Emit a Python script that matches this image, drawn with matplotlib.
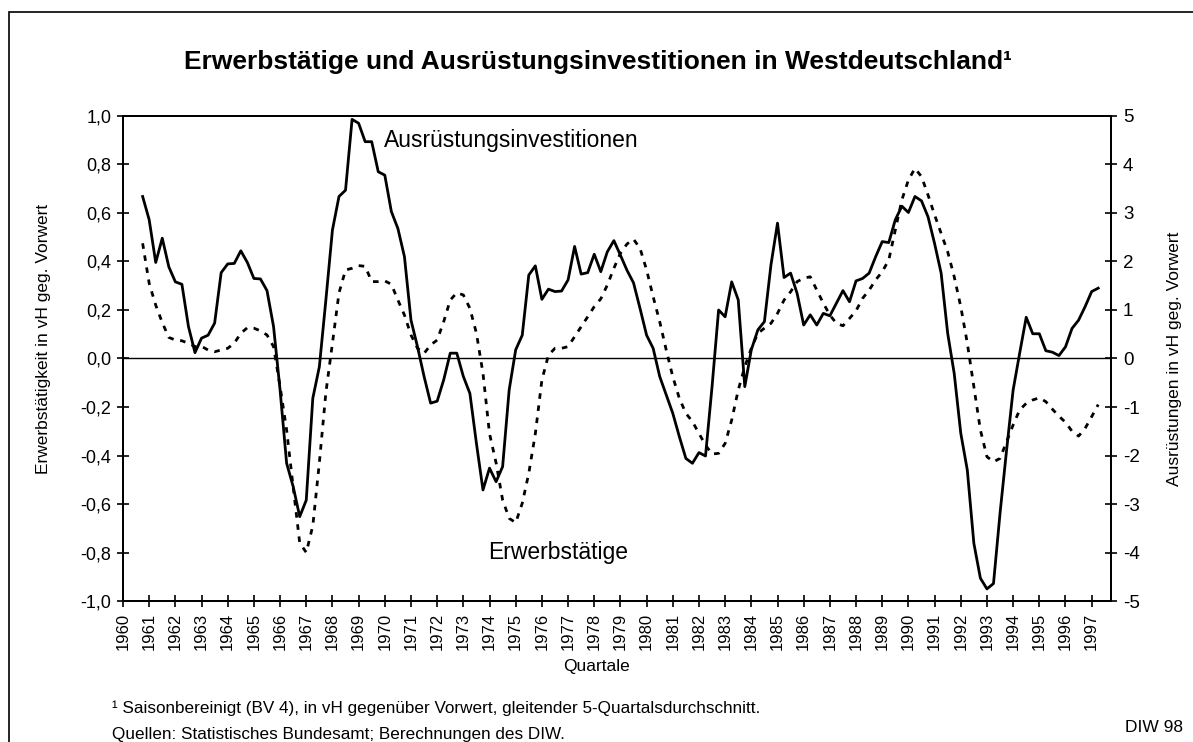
import numpy as np
import matplotlib.pyplot as plt
from matplotlib.patches import Rectangle

plt.rcParams['font.family'] = ['Liberation Sans', 'DejaVu Sans']

# quarterly values, first quarter 1960 Q4 (x = 1960.75)
erster_wert = 1960.75

# Ausrüstungsinvestitionen, vH geg. Vorwert (right axis)
investitionen = [
    3.34, 2.86, 1.98, 2.48, 1.89, 1.58, 1.53, 0.66, 0.12, 0.42,
    0.48, 0.73, 1.77, 1.95, 1.96, 2.22, 1.98, 1.65, 1.64, 1.40,
    0.66, -0.65, -2.16, -2.64, -3.26, -2.92, -0.82, -0.17, 1.21, 2.65,
    3.34, 3.47, 4.93, 4.85, 4.47, 4.47, 3.85, 3.78, 3.03, 2.68,
    2.10, 0.79, 0.24, -0.37, -0.92, -0.88, -0.44, 0.11, 0.11, -0.37,
    -0.72, -1.75, -2.71, -2.26, -2.54, -2.23, -0.65, 0.18, 0.48, 1.72,
    1.91, 1.22, 1.43, 1.38, 1.39, 1.62, 2.31, 1.74, 1.77, 2.15,
    1.79, 2.20, 2.43, 2.13, 1.82, 1.56, 1.03, 0.48, 0.21, -0.37,
    -0.75, -1.13, -1.61, -2.06, -2.16, -1.94, -2.01, -0.58, 1.00, 0.86,
    1.58, 1.21, -0.58, 0.18, 0.59, 0.76, 1.93, 2.79, 1.67, 1.76,
    1.34, 0.69, 0.90, 0.69, 0.93, 0.88, 1.14, 1.40, 1.17, 1.60,
    1.65, 1.76, 2.10, 2.41, 2.39, 2.86, 3.14, 3.01, 3.34, 3.25,
    2.92, 2.37, 1.76, 0.52, -0.31, -1.54, -2.30, -3.81, -4.53, -4.75,
    -4.64, -3.19, -1.89, -0.65, 0.11, 0.85, 0.51, 0.51, 0.16, 0.13,
    0.06, 0.24, 0.62, 0.79, 1.07, 1.38, 1.45,
]

# Erwerbstätige, vH geg. Vorwert (left axis)
erwerbstaetige = [
    0.475, 0.31, 0.22, 0.148, 0.087, 0.076, 0.073, 0.063, 0.049, 0.05,
    0.035, 0.028, 0.035, 0.042, 0.063, 0.104, 0.127, 0.125, 0.114, 0.097,
    0.049, -0.116, -0.295, -0.53, -0.76, -0.80, -0.69, -0.43, -0.14, 0.063,
    0.27, 0.365, 0.372, 0.383, 0.38, 0.317, 0.317, 0.32, 0.306, 0.241,
    0.179, 0.097, 0.042, 0.021, 0.056, 0.076, 0.152, 0.241, 0.271, 0.262,
    0.207, 0.104, -0.061, -0.31, -0.43, -0.583, -0.659, -0.677, -0.597, -0.473,
    -0.31, -0.089, 0.014, 0.042, 0.042, 0.049, 0.09, 0.131, 0.172, 0.214,
    0.246, 0.303, 0.372, 0.434, 0.472, 0.492, 0.454, 0.365, 0.255, 0.152,
    0.035, -0.075, -0.164, -0.226, -0.26, -0.309, -0.357, -0.394, -0.391, -0.35,
    -0.254, -0.13, -0.034, 0.042, 0.104, 0.125, 0.145, 0.186, 0.241, 0.275,
    0.317, 0.331, 0.337, 0.282, 0.228, 0.179, 0.145, 0.135, 0.165, 0.197,
    0.248, 0.282, 0.324, 0.358, 0.406, 0.53, 0.654, 0.736, 0.784, 0.75,
    0.674, 0.592, 0.516, 0.44, 0.337, 0.214, 0.063, -0.116, -0.295, -0.405,
    -0.426, -0.412, -0.343, -0.274, -0.212, -0.185, -0.171, -0.162, -0.178, -0.209,
    -0.238, -0.263, -0.30, -0.32, -0.288, -0.24, -0.19,
]

jahre = list(range(1960, 1998))
links_ticks = [-1.0, -0.8, -0.6, -0.4, -0.2, 0.0, 0.2, 0.4, 0.6, 0.8, 1.0]
rechts_ticks = [-5, -4, -3, -2, -1, 0, 1, 2, 3, 4, 5]

quartale = erster_wert + 0.25 * np.arange(len(investitionen))

fig = plt.figure(figsize=(11.93, 7.42), dpi=100)
ax = fig.add_axes([0.1031, 0.19, 0.8282, 0.6537])
ax2 = ax.twinx()

ax.axhline(0, color='black', lw=1.0)
ax.plot(quartale, erwerbstaetige, color='black', lw=2.0, linestyle=(0, (2, 2.4)))
ax2.plot(quartale, investitionen, color='black', lw=2.0)

ax.set_xlim(1960, 1997.74)
ax.set_ylim(-1, 1)
ax2.set_ylim(-5, 5)

ax.set_xticks(jahre)
ax.set_xticklabels([str(j) for j in jahre], rotation=90, fontsize=12)
ax.set_yticks(links_ticks)
ax.set_yticklabels([f'{v:.1f}'.replace('.', ',') for v in links_ticks], fontsize=13)
ax2.set_yticks(rechts_ticks)
ax2.set_yticklabels([str(v) for v in rechts_ticks], fontsize=13.5)

for a in (ax, ax2):
    a.tick_params(direction='inout', length=9, width=1.2, pad=4)
    for s in a.spines.values():
        s.set_linewidth(1.4)

ax.set_ylabel('Erwerbstätigkeit in vH geg. Vorwert', fontsize=12.5)
ax.yaxis.set_label_coords(-0.073, 0.54)
ax2.set_ylabel('Ausrüstungen in vH geg. Vorwert', fontsize=12.5, labelpad=20)

ax.text(1969.97, 0.897, 'Ausrüstungsinvestitionen', fontsize=16.5, va='center', ha='left')
ax.text(1973.94, -0.80, 'Erwerbstätige', fontsize=16.5, va='center', ha='left')

fig.text(598 / 1193, 1 - 62 / 742, 'Erwerbstätige und Ausrüstungsinvestitionen in Westdeutschland¹',
         fontsize=19, fontweight='bold', ha='center', va='center')
fig.text(597 / 1193, 1 - 666 / 742, 'Quartale', fontsize=12.5, ha='center', va='center')
fig.text(112 / 1193, 1 - 708 / 742,
         '¹ Saisonbereinigt (BV 4), in vH gegenüber Vorwert, gleitender 5-Quartalsdurchschnitt.',
         fontsize=12.3, ha='left', va='center')
fig.text(112 / 1193, 1 - 735 / 742, 'Quellen: Statistisches Bundesamt; Berechnungen des DIW.',
         fontsize=12.3, ha='left', va='center')
fig.text(1183 / 1193, 1 - 727 / 742, 'DIW 98', fontsize=12.5, ha='right', va='center')

fig.patches.append(Rectangle((9 / 1193, -0.1), 1.2, 1.1 - 12 / 742, transform=fig.transFigure,
                             fill=False, ec='black', lw=1.2))

fig.savefig('out.png', dpi=100)
